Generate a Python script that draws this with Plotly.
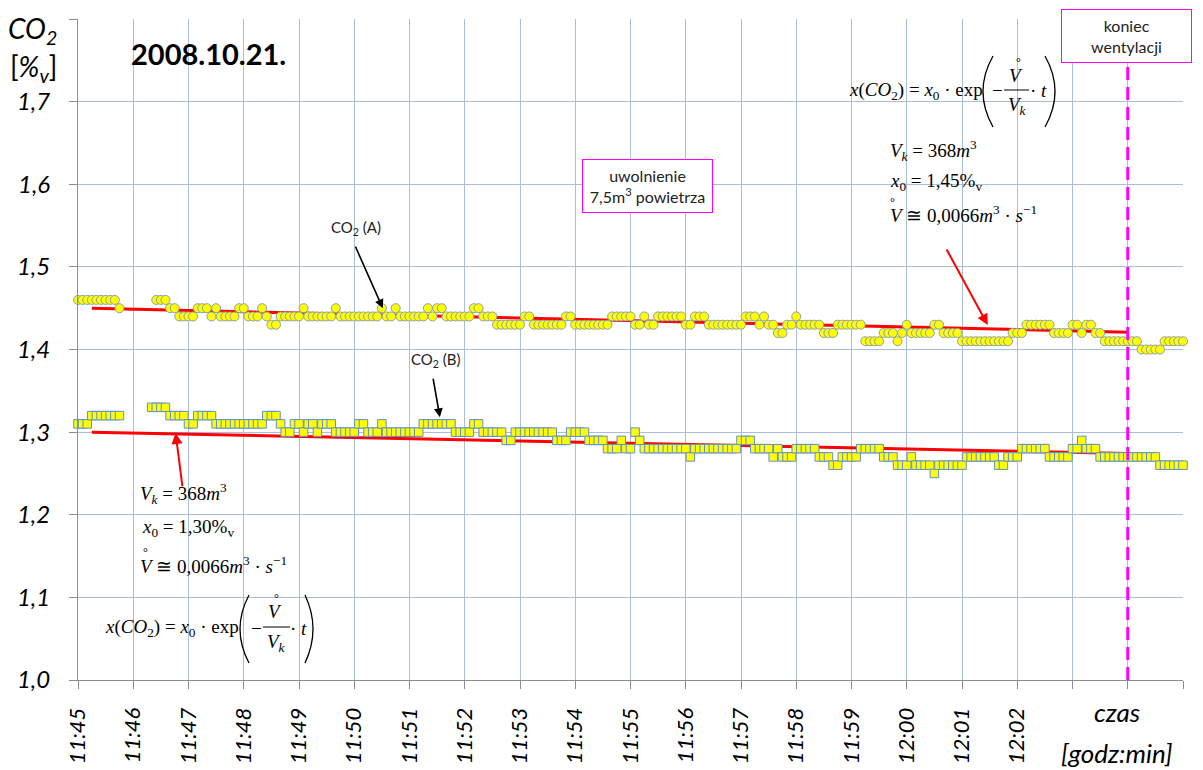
import plotly.graph_objects as go
import pandas as pd

# ---------------- data ----------------
sample_start = "2008-10-21 11:45:00"
sample_count = 241          # one sample every 5 s, 11:45:00 - 12:05:00
sample_step = "5s"

co2_a = [
    1.46, 1.46, 1.46, 1.46, 1.46, 1.46, 1.46, 1.46, 1.46, 1.45, None, None,   # 11:45
    None, None, None, None, None, 1.46, 1.46, 1.46, 1.45, 1.45, 1.44, 1.44,   # 11:46
    1.44, 1.44, 1.45, 1.45, 1.45, 1.44, 1.45, 1.44, 1.44, 1.44, 1.44, 1.45,   # 11:47
    1.45, 1.44, 1.44, 1.44, 1.45, 1.44, 1.43, 1.43, 1.44, 1.44, 1.44, 1.44,   # 11:48
    1.44, 1.45, 1.44, 1.44, 1.44, 1.44, 1.44, 1.44, 1.45, 1.44, 1.44, 1.44,   # 11:49
    1.44, 1.44, 1.44, 1.44, 1.44, 1.44, 1.45, 1.44, 1.44, 1.45, 1.44, 1.44,   # 11:50
    1.44, 1.44, 1.44, 1.44, 1.45, 1.44, 1.45, 1.45, 1.44, 1.44, 1.44, 1.44,   # 11:51
    1.44, 1.44, 1.45, 1.45, 1.44, 1.44, 1.44, 1.43, 1.43, 1.43, 1.43, 1.43,   # 11:52
    1.43, 1.44, 1.44, 1.43, 1.43, 1.43, 1.43, 1.43, 1.43, 1.43, 1.44, 1.44,   # 11:53
    1.43, 1.43, 1.43, 1.43, 1.43, 1.43, 1.43, 1.43, 1.44, 1.44, 1.44, 1.44,   # 11:54
    1.44, 1.43, 1.43, 1.44, 1.43, 1.43, 1.44, 1.44, 1.44, 1.44, 1.44, 1.44,   # 11:55
    1.43, 1.43, 1.44, 1.44, 1.44, 1.43, 1.43, 1.43, 1.43, 1.43, 1.43, 1.43,   # 11:56
    1.43, 1.44, 1.44, 1.44, 1.43, 1.44, 1.43, 1.43, 1.42, 1.42, 1.43, 1.43,   # 11:57
    1.44, 1.43, 1.43, 1.43, 1.43, 1.43, 1.42, 1.42, 1.42, 1.43, 1.43, 1.43,   # 11:58
    1.43, 1.43, 1.43, 1.41, 1.41, 1.41, 1.41, 1.42, 1.42, 1.42, 1.41, 1.42,   # 11:59
    1.43, 1.42, 1.42, 1.42, 1.42, 1.42, 1.43, 1.43, 1.42, 1.42, 1.42, 1.42,   # 12:00
    1.41, 1.41, 1.41, 1.41, 1.41, 1.41, 1.41, 1.41, 1.41, 1.41, 1.41, 1.42,   # 12:01
    1.42, 1.42, 1.43, 1.43, 1.43, 1.43, 1.43, 1.43, 1.42, 1.42, 1.42, 1.42,   # 12:02
    1.43, 1.43, 1.42, 1.43, 1.43, 1.42, 1.42, 1.41, 1.41, 1.41, 1.41, 1.41,   # 12:03
    1.41, 1.41, 1.41, 1.40, 1.40, 1.40, 1.40, 1.40, 1.41, 1.41, 1.41, 1.41,   # 12:04
    1.41,                                                                     # 12:05
]

co2_b = [
    1.31, 1.31, 1.31, 1.32, 1.32, 1.32, 1.32, 1.32, 1.32, 1.32, None, None,   # 11:45
    None, None, None, None, 1.33, 1.33, 1.33, 1.33, 1.32, 1.32, 1.32, 1.32,   # 11:46
    1.31, 1.31, 1.32, 1.32, 1.32, 1.32, 1.31, 1.31, 1.31, 1.31, 1.31, 1.31,   # 11:47
    1.31, 1.31, 1.31, 1.31, 1.31, 1.32, 1.32, 1.32, 1.31, 1.30, 1.30, 1.31,   # 11:48
    1.31, 1.30, 1.31, 1.31, 1.30, 1.31, 1.31, 1.31, 1.30, 1.30, 1.30, 1.30,   # 11:49
    1.30, 1.31, 1.31, 1.30, 1.30, 1.30, 1.31, 1.30, 1.30, 1.30, 1.30, 1.30,   # 11:50
    1.30, 1.30, 1.30, 1.31, 1.31, 1.31, 1.31, 1.31, 1.31, 1.31, 1.30, 1.30,   # 11:51
    1.30, 1.30, 1.31, 1.31, 1.30, 1.30, 1.30, 1.30, 1.30, 1.29, 1.29, 1.30,   # 11:52
    1.30, 1.30, 1.30, 1.30, 1.30, 1.30, 1.30, 1.30, 1.29, 1.29, 1.29, 1.30,   # 11:53
    1.30, 1.30, 1.30, 1.29, 1.29, 1.29, 1.29, 1.28, 1.28, 1.28, 1.29, 1.28,   # 11:54
    1.28, 1.30, 1.29, 1.28, 1.28, 1.28, 1.28, 1.28, 1.28, 1.28, 1.28, 1.28,   # 11:55
    1.28, 1.27, 1.28, 1.28, 1.28, 1.28, 1.28, 1.28, 1.28, 1.28, 1.28, 1.28,   # 11:56
    1.29, 1.29, 1.29, 1.28, 1.28, 1.28, 1.28, 1.27, 1.28, 1.27, 1.27, 1.27,   # 11:57
    1.28, 1.28, 1.28, 1.28, 1.28, 1.27, 1.27, 1.27, 1.26, 1.26, 1.27, 1.27,   # 11:58
    1.27, 1.27, 1.28, 1.28, 1.28, 1.28, 1.28, 1.27, 1.27, 1.27, 1.26, 1.26,   # 11:59
    1.26, 1.27, 1.26, 1.26, 1.26, 1.26, 1.25, 1.26, 1.26, 1.26, 1.26, 1.26,   # 12:00
    1.26, 1.27, 1.27, 1.27, 1.27, 1.27, 1.27, 1.27, 1.26, 1.26, 1.27, 1.27,   # 12:01
    1.27, 1.28, 1.28, 1.28, 1.28, 1.28, 1.28, 1.27, 1.27, 1.27, 1.27, 1.27,   # 12:02
    1.28, 1.28, 1.29, 1.28, 1.28, 1.28, 1.27, 1.27, 1.27, 1.27, 1.27, 1.27,   # 12:03
    1.27, 1.27, 1.27, 1.27, 1.27, 1.27, 1.27, 1.26, 1.26, 1.26, 1.26, 1.26,   # 12:04
    1.26,                                                                     # 12:05
]

# fitted decay curves (red), read at start and end
fit_times = ["2008-10-21 11:45:15", "2008-10-21 12:04:00"]
fit_a = [1.450, 1.421]
fit_b = [1.300, 1.274]

end_of_ventilation = "2008-10-21 12:04:00"

x_tick_vals = ["2008-10-21 11:%02d" % m for m in range(45, 60)] + \
              ["2008-10-21 12:%02d" % m for m in range(0, 6)]
x_tick_text = ["11:45", "11:46", "11:47", "11:48", "11:49", "11:50", "11:51",
               "11:52", "11:53", "11:54", "11:55", "11:56", "11:57", "11:58",
               "11:59", "12:00", "12:01", "12:02", "", "", ""]
y_tick_vals = [1.0, 1.1, 1.2, 1.3, 1.4, 1.5, 1.6, 1.7, 1.8]
y_tick_text = ["1,0", "1,1", "1,2", "1,3", "1,4", "1,5", "1,6", "1,7", ""]

times = pd.date_range(sample_start, periods=sample_count, freq=sample_step)

# ---------------- layout helpers ----------------
W, H = 1203, 770
L, R, T, B = 78, 1183, 19, 680


def px(x):
    return (x - L) / (R - L)


def py(y):
    return (B - y) / (B - T)


SANS = "Lato"
SERIF = "Liberation Serif"
GRID = "#a9bedd"

fig = go.Figure()

fig.add_trace(go.Scatter(x=fit_times, y=fit_a, mode="lines",
                         line=dict(color="#ff0000", width=3), hoverinfo="skip"))
fig.add_trace(go.Scatter(x=fit_times, y=fit_b, mode="lines",
                         line=dict(color="#ff0000", width=3), hoverinfo="skip"))
fig.add_trace(go.Scatter(x=times, y=co2_a, mode="markers", name="CO2 (A)",
                         cliponaxis=False,
                         marker=dict(symbol="circle", size=9, color="#ffff00",
                                     line=dict(color="#8a9fa6", width=1))))
fig.add_trace(go.Scatter(x=times, y=co2_b, mode="markers", name="CO2 (B)",
                         cliponaxis=False,
                         marker=dict(symbol="square", size=8.5, color="#ffff00",
                                     line=dict(color="#5f8fcc", width=1))))

# end of ventilation dashed line
fig.add_shape(type="line", xref="x", yref="paper",
              x0=end_of_ventilation, x1=end_of_ventilation, y0=0, y1=py(63),
              line=dict(color="#ff00ff", width=3, dash="13px,7px"), layer="above")

ann = []


def text(x, y, s, size, family=SANS, xanchor="center", color="black", **kw):
    ann.append(dict(x=px(x), y=py(y), xref="paper", yref="paper", text=s,
                    showarrow=False, xanchor=xanchor, yanchor="middle",
                    font=dict(size=size, family=family, color=color), **kw))


def arrow(x, y, ax, ay, color="black", width=1.6):
    ann.append(dict(x=x, y=y, xref="x", yref="y", text="", showarrow=True,
                    ax=ax, ay=ay, arrowhead=2, arrowsize=1.1,
                    arrowwidth=width, arrowcolor=color))


def paren(x_end, x_mid, y_top, y_bot):
    xc = 2 * x_mid - x_end
    ym = (y_top + y_bot) / 2
    path = "M %f,%f Q %f,%f %f,%f" % (px(x_end), py(y_top), px(xc), py(ym),
                                       px(x_end), py(y_bot))
    fig.add_shape(type="path", xref="paper", yref="paper", path=path,
                  line=dict(color="black", width=1.3))


# title and axis captions
text(208, 54, "<b>2008.10.21.</b>", 29)
text(32, 30, "<i>CO<sub>2</sub></i>", 28)
text(33, 68, "[<i>%<sub>v</sub></i>]", 28)
text(1117, 712, "<i>czas</i>", 26)
text(1117, 753, "<i>[godz:min]</i>", 26)

# series labels and arrows
text(356, 228, "CO<sub>2</sub> (A)", 15, color="#222222")
text(435, 360, "CO<sub>2</sub> (B)", 15, color="#222222")
arrow("2008-10-21 11:50:31", 1.450, -28, -63)
arrow("2008-10-21 11:51:33", 1.318, -7, -40)
arrow("2008-10-21 12:01:28", 1.4297, -42, -77, color="#ff0000", width=2)
arrow("2008-10-21 11:46:46", 1.299, 7, 55, color="#ff0000", width=2)

# boxes
for cx, cy, s in [(647.5, 186, "uwolnienie<br>7,5m<sup>3</sup> powietrza"),
                  (1126.5, 36, "koniec<br>wentylacji")]:
    ann.append(dict(x=px(cx), y=py(cy), xref="paper", yref="paper",
                    xanchor="center", yanchor="middle",
                    text=s, showarrow=False,
                    font=dict(size=16, family=SANS, color="#222222"),
                    bordercolor="#ff00ff", borderwidth=1, bgcolor="white",
                    width=127, height=50, borderpad=1))

# formula: top right
FS = 19
text(847, 91, "<i>x</i>(<i>CO</i><sub>2</sub>) = <i>x</i><sub>0</sub> · exp", FS, SERIF, "left")
paren(993, 983, 56, 127)
text(997, 91, "−", FS, SERIF)
text(1016, 75, "<i>V</i>", FS, SERIF)
text(1018, 62, "°", 12, SERIF)
text(1017, 106, "<i>V<sub>k</sub></i>", FS, SERIF)
text(1038, 91, "· <i>t</i>", FS, SERIF)
paren(1045, 1055, 56, 127)
fig.add_shape(type="line", xref="paper", yref="paper", x0=px(1004), x1=px(1029),
              y0=py(90), y1=py(90), line=dict(color="black", width=1))
text(888, 150, "<i>V<sub>k</sub></i> = 368<i>m</i><sup>3</sup>", FS, SERIF, "left")
text(888, 182, "<i>x</i><sub>0</sub> = 1,45%<sub>v</sub>", FS, SERIF, "left")
text(888, 214, "<i>V</i> ≅ 0,0066<i>m</i><sup>3</sup> · <i>s</i><sup>−1</sup>", FS, SERIF, "left")
text(892, 202, "°", 12, SERIF)

# formula: bottom left
text(138, 493, "<i>V<sub>k</sub></i> = 368<i>m</i><sup>3</sup>", FS, SERIF, "left")
text(140, 528, "<i>x</i><sub>0</sub> = 1,30%<sub>v</sub>", FS, SERIF, "left")
text(138, 565, "<i>V</i> ≅ 0,0066<i>m</i><sup>3</sup> · <i>s</i><sup>−1</sup>", FS, SERIF, "left")
text(145, 552, "°", 12, SERIF)
text(103, 628, "<i>x</i>(<i>CO</i><sub>2</sub>) = <i>x</i><sub>0</sub> · exp", FS, SERIF, "left")
paren(249, 240, 595, 663)
text(256, 628, "−", FS, SERIF)
text(275, 611, "<i>V</i>", FS, SERIF)
text(276, 598, "°", 12, SERIF)
text(276, 643, "<i>V<sub>k</sub></i>", FS, SERIF)
text(298, 628, "· <i>t</i>", FS, SERIF)
paren(305, 313, 595, 663)
fig.add_shape(type="line", xref="paper", yref="paper", x0=px(263), x1=px(290),
              y0=py(627), y1=py(627), line=dict(color="black", width=1))

fig.update_layout(
    width=W, height=H,
    margin=dict(l=L, r=W - R, t=T, b=H - B, pad=0, autoexpand=False),
    paper_bgcolor="white", plot_bgcolor="white",
    showlegend=False,
    font=dict(family=SANS, color="black"),
    annotations=ann,
    xaxis=dict(type="date", automargin=False,
               range=["2008-10-21 11:45:00", "2008-10-21 12:05:00"],
               tickmode="array", tickvals=x_tick_vals, ticktext=x_tick_text,
               tickangle=-90, tickfont=dict(size=22, family=SANS, style="italic"),
               showgrid=True, gridcolor=GRID, gridwidth=1,
               showline=True, linecolor="#8c8c8c", linewidth=1,
               ticks="outside", ticklen=8, tickcolor="#8c8c8c",
               ticklabelstandoff=10, zeroline=False, fixedrange=True),
    yaxis=dict(range=[1.0, 1.8], automargin=False,
               tickmode="array", tickvals=y_tick_vals, ticktext=y_tick_text,
               tickfont=dict(size=24, family=SANS, style="italic"),
               showgrid=True, gridcolor=GRID, gridwidth=1,
               showline=True, linecolor="#8c8c8c", linewidth=1,
               ticks="outside", ticklen=8, tickcolor="#8c8c8c",
               ticklabelstandoff=14, zeroline=False, fixedrange=True),
)

# remove the page's default body margin so the figure sits at the window origin
fig.write_html("out.html",
               config={"displayModeBar": False},
               post_script="document.body.style.margin='0';"
                           "document.body.style.overflow='hidden';")
